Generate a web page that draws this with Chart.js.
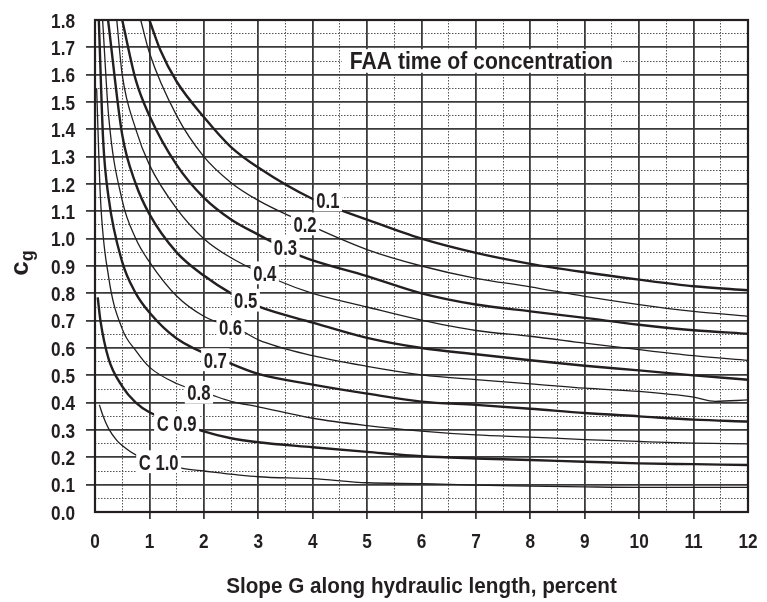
<!DOCTYPE html>
<html>
<head>
<meta charset="utf-8">
<script src="https://cdn.jsdelivr.net/npm/chart.js@4.4.1/dist/chart.umd.min.js"></script>
<style>
  html, body { margin: 0; padding: 0; background: #fff; }
  #wrap { width: 767px; height: 602px; position: relative; }
</style>
</head>
<body>
<div id="wrap"><canvas id="chart"></canvas></div>
<script>
// Values, one pair of arrays per runoff coefficient C
const c01X = [1.0, 1.2, 1.5, 2, 2.5, 3, 4, 5, 6, 7, 8, 9, 10, 11, 12];
const c01Y = [1.80, 1.69, 1.575, 1.445, 1.335, 1.26, 1.145, 1.07, 1.0, 0.948, 0.908, 0.877, 0.85, 0.826, 0.811];

const c02X = [0.84, 1, 1.5, 2, 2.5, 3, 3.63, 5, 6, 7, 8, 9, 10, 11, 12];
const c02Y = [1.80, 1.68, 1.45, 1.30, 1.205, 1.14, 1.078, 0.96, 0.90, 0.855, 0.824, 0.789, 0.759, 0.734, 0.716];

const c03X = [0.5, 0.75, 1, 1.5, 2, 2.5, 3, 3.76, 5, 6, 7, 8, 9, 10, 11, 12];
const c03Y = [1.80, 1.58, 1.45, 1.27, 1.15, 1.07, 1.015, 0.938, 0.863, 0.80, 0.759, 0.734, 0.71, 0.685, 0.665, 0.652];

const c04X = [0.40, 0.5, 0.75, 1, 1.5, 2, 2.5, 3.36, 4, 5, 6, 7, 8, 9, 10, 11, 12];
const c04Y = [1.80, 1.60, 1.40, 1.27, 1.11, 1.0, 0.93, 0.847, 0.80, 0.75, 0.702, 0.664, 0.643, 0.618, 0.594, 0.572, 0.555];

const c05X = [0.24, 0.5, 0.75, 1, 1.5, 2, 2.5, 3, 4, 5, 6, 7, 8, 9, 10, 11, 12];
const c05Y = [1.80, 1.38, 1.20, 1.09, 0.95, 0.865, 0.80, 0.752, 0.693, 0.637, 0.60, 0.577, 0.555, 0.535, 0.518, 0.50, 0.484];

const c06X = [0.14, 0.25, 0.5, 0.75, 1, 1.5, 2, 2.71, 3, 4, 5, 6, 7, 8, 9, 10, 11, 11.4, 12];
const c06Y = [1.80, 1.45, 1.14, 1.0, 0.915, 0.79, 0.716, 0.661, 0.63, 0.572, 0.533, 0.502, 0.484, 0.469, 0.453, 0.441, 0.42, 0.405, 0.41];

const c07X = [0.07, 0.15, 0.25, 0.5, 0.75, 1, 1.5, 2.47, 3, 4, 5, 6, 7, 8, 9, 10, 11, 12];
const c07Y = [1.80, 1.36, 1.15, 0.915, 0.80, 0.73, 0.635, 0.545, 0.505, 0.466, 0.433, 0.404, 0.392, 0.378, 0.362, 0.35, 0.338, 0.331];

const c08X = [0.03, 0.1, 0.25, 0.5, 0.75, 1, 1.5, 2.13, 2.5, 3, 4, 5, 6, 7, 8, 9, 10, 11, 12];
const c08Y = [1.55, 1.15, 0.86, 0.67, 0.59, 0.53, 0.47, 0.429, 0.405, 0.385, 0.343, 0.316, 0.296, 0.282, 0.274, 0.265, 0.258, 0.252, 0.249];

const c09X = [0.05, 0.1, 0.25, 0.5, 0.75, 1, 1.95, 2.5, 3, 4, 5, 6, 7, 8, 9, 10, 11, 12];
const c09Y = [0.785, 0.70, 0.56, 0.46, 0.40, 0.365, 0.298, 0.27, 0.255, 0.237, 0.22, 0.204, 0.196, 0.19, 0.184, 0.178, 0.175, 0.172];

const c10X = [0.08, 0.15, 0.25, 0.4, 0.5, 0.75, 1.61, 2, 3, 4, 5, 6, 7, 8, 9, 10, 11, 12];
const c10Y = [0.392, 0.35, 0.305, 0.262, 0.243, 0.209, 0.16, 0.15, 0.129, 0.122, 0.107, 0.104, 0.098, 0.095, 0.092, 0.09, 0.09, 0.09];

// Curve labels and where they sit (data units)
const curveLabels = ['0.1', '0.2', '0.3', '0.4', '0.5', '0.6', '0.7', '0.8', 'C 0.9', 'C 1.0'];
const labelX = [4.28, 3.86, 3.50, 3.12, 2.77, 2.49, 2.21, 1.91, 1.50, 1.17];
const labelY = [1.142, 1.054, 0.970, 0.875, 0.775, 0.678, 0.557, 0.438, 0.326, 0.184];

const chartTitle = 'FAA time of concentration';
const titleAt = [7.1, 1.65];
const xAxisTitle = 'Slope G along hydraulic length, percent';

const FONT = '"Liberation Sans", Arial, sans-serif';
const INK = '#231f20';

const curves = [
  [c01X, c01Y], [c02X, c02Y], [c03X, c03Y], [c04X, c04Y], [c05X, c05Y],
  [c06X, c06Y], [c07X, c07Y], [c08X, c08Y], [c09X, c09Y], [c10X, c10Y]
];

const isMajorX = v => Math.abs(v - Math.round(v)) < 1e-6;
const isMajorY = v => Math.abs(v * 10 - Math.round(v * 10)) < 1e-6;

// text squeezed horizontally to look like the condensed face of the original
function narrowText(ctx, txt, x, base, size, sx, align) {
  ctx.save();
  ctx.font = 'bold ' + size + 'px ' + FONT;
  ctx.translate(x, base);
  ctx.scale(sx, 1);
  ctx.fillStyle = INK;
  ctx.textAlign = align;
  ctx.textBaseline = 'alphabetic';
  ctx.fillText(txt, 0, 0);
  ctx.restore();
}

function boxedText(ctx, txt, cx, cy, size, sx, padX) {
  ctx.font = 'bold ' + size + 'px ' + FONT;
  const w = ctx.measureText(txt).width * sx;
  const cap = size * 0.72;
  const base = cy + cap / 2;
  ctx.fillStyle = '#fff';
  ctx.fillRect(cx - w / 2 - padX, base - cap - 3.5, w + 2 * padX, cap + 7);
  narrowText(ctx, txt, cx, base, size, sx, 'center');
}

const labelsPlugin = {
  id: 'curveLabels',
  afterDatasetsDraw(chart) {
    const { ctx, scales: { x, y } } = chart;
    curveLabels.forEach((txt, i) => {
      boxedText(ctx, txt, x.getPixelForValue(labelX[i]), y.getPixelForValue(labelY[i]), 22, 0.76, 2.5);
    });
    boxedText(ctx, chartTitle, x.getPixelForValue(titleAt[0]), y.getPixelForValue(titleAt[1]), 23, 0.92, 8);
  },
  afterDraw(chart) {
    const { ctx, chartArea: a, scales: { x, y } } = chart;
    // tick labels from the scales' own ticks
    x.ticks.forEach(t => {
      if (isMajorX(t.value)) narrowText(ctx, String(Math.round(t.value)), x.getPixelForValue(t.value), a.bottom + 36, 21, 0.82, 'center');
    });
    y.ticks.forEach(t => {
      if (isMajorY(t.value)) narrowText(ctx, t.value.toFixed(1), a.left - 20, y.getPixelForValue(t.value) + 7.5, 21, 0.82, 'right');
    });
    ctx.save();
    // frame
    ctx.strokeStyle = INK;
    ctx.lineWidth = 2.2;
    ctx.strokeRect(a.left, a.top, a.right - a.left, a.bottom - a.top);
    ctx.restore();
    // x axis title
    narrowText(ctx, xAxisTitle, (a.left + a.right) / 2, 593, 22, 0.94, 'center');
    // y axis title: c with subscript g
    ctx.save();
    ctx.fillStyle = INK;
    ctx.translate(28, 263);
    ctx.rotate(-Math.PI / 2);
    ctx.font = 'bold 26px ' + FONT;
    const wc = ctx.measureText('c').width;
    ctx.font = 'bold 18px ' + FONT;
    const wg = ctx.measureText('g').width;
    const start = -(wc + wg) / 2;
    ctx.textAlign = 'left';
    ctx.font = 'bold 26px ' + FONT;
    ctx.fillText('c', start, 0);
    ctx.font = 'bold 18px ' + FONT;
    ctx.fillText('g', start + wc, 5);
    ctx.restore();
  }
};

new Chart(document.getElementById('chart'), {
  type: 'line',
  data: {
    datasets: curves.map((c, i) => ({
      label: curveLabels[i],
      data: c[0].map((xv, j) => ({ x: xv, y: c[1][j] })),
      borderColor: INK,
      borderWidth: i % 2 === 0 ? 2.4 : 1.3,
      pointRadius: 0,
      fill: false,
      cubicInterpolationMode: 'monotone'
    }))
  },
  options: {
    responsive: true,
    maintainAspectRatio: false,
    animation: false,
    layout: { padding: { top: 20, right: 19, left: 0, bottom: 0 } },
    plugins: { legend: { display: false }, tooltip: { enabled: false } },
    scales: {
      x: {
        type: 'linear', min: 0, max: 12,
        afterFit(s) { s.height = 90; },
        ticks: { stepSize: 0.5, autoSkip: false, maxRotation: 0, minRotation: 0, display: false },
        grid: {
          color: c => c.tick && isMajorX(c.tick.value) ? '#3a3a3a' : '#555',
          lineWidth: c => c.tick && isMajorX(c.tick.value) ? 1.8 : 1,
          tickLength: 7,
          tickWidth: 1.8,
          tickColor: c => c.tick && isMajorX(c.tick.value) && c.tick.value > 0 && c.tick.value < 12 ? '#3a3a3a' : 'rgba(0,0,0,0)'
        },
        border: { display: false, dash: c => c.tick && !isMajorX(c.tick.value) ? [1.5, 1.5] : [] }
      },
      y: {
        type: 'linear', min: 0, max: 1.8,
        afterFit(s) { s.width = 95; },
        ticks: { stepSize: 0.05, autoSkip: false, display: false },
        grid: {
          color: c => c.tick && isMajorY(c.tick.value) ? '#3a3a3a' : '#555',
          lineWidth: c => c.tick && isMajorY(c.tick.value) ? 1.8 : 1,
          tickLength: 9,
          tickWidth: 1.8,
          tickColor: c => c.tick && isMajorY(c.tick.value) && c.tick.value > 0.01 && c.tick.value < 1.79 ? '#3a3a3a' : 'rgba(0,0,0,0)'
        },
        border: { display: false, dash: c => c.tick && !isMajorY(c.tick.value) ? [1.5, 1.5] : [] }
      }
    }
  },
  plugins: [labelsPlugin]
});
</script>
</body>
</html>
